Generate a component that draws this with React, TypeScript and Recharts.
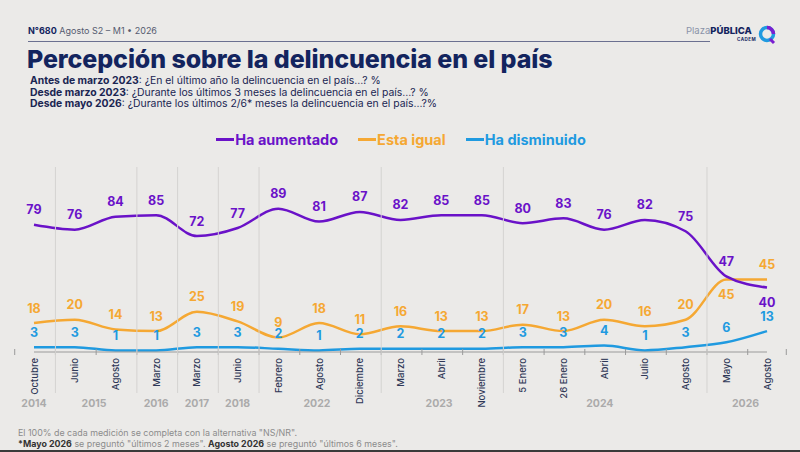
// @ts-nocheck
import { LineChart, Line, XAxis, YAxis, Legend, LabelList } from 'recharts';

const categories = [
  'Octubre', 'Junio', 'Agosto', 'Marzo', 'Marzo', 'Junio', 'Febrero', 'Agosto', 'Diciembre',
  'Marzo', 'Abril', 'Noviembre', '5 Enero', '26 Enero', 'Abril', 'Julio', 'Agosto', 'Mayo', 'Agosto',
];
const years = [
  '2014', '2015', '2015', '2016', '2017', '2018', '2022', '2022', '2022',
  '2023', '2023', '2023', '2024', '2024', '2024', '2024', '2024', '2026', '2026',
];
const aumentado = [79, 76, 84, 85, 72, 77, 89, 81, 87, 82, 85, 85, 80, 83, 76, 82, 75, 47, 40];
const igual = [18, 20, 14, 13, 25, 19, 9, 18, 11, 16, 13, 13, 17, 13, 20, 16, 20, 45, 45];
const disminuido = [3, 3, 1, 1, 3, 3, 2, 1, 2, 2, 2, 2, 3, 3, 4, 1, 3, 6, 13];
const seriesOrder = ['Ha aumentado', 'Esta igual', 'Ha disminuido'];

const data = categories.map((c, i) => ({
  id: i,
  aumentado: aumentado[i],
  igual: igual[i],
  disminuido: disminuido[i],
}));

const W = 800;
const H = 452;
const M = { top: 174, right: 33, bottom: 70, left: 34 };
const AXIS_H = 30;
const AXIS_Y = H - M.bottom - AXIS_H;
const N = categories.length;
const HALF = (W - M.left - M.right) / N / 2;

const PURPLE = '#6a12c8';
const ORANGE = '#f5a833';
const BLUE = '#1f9ae0';
const NAVY = '#13245e';
const FONT = 'Inter, "Noto Sans", sans-serif';

const AxisTick = ({ x, payload, index }) => {
  const i = typeof index === 'number' ? index : payload.index;
  const half = payload && payload.offset > 0 ? payload.offset : HALF;
  const groupStart = i === 0 || years[i] !== years[i - 1];
  let end = i;
  while (end + 1 < N && years[end + 1] === years[i]) end++;
  return (
    <g>
      <line x1={x - half} x2={x - half} y1={AXIS_Y - 3} y2={AXIS_Y + 3} stroke="#9a9a9a" />
      {i === N - 1 && (
        <line x1={x + half} x2={x + half} y1={AXIS_Y - 3} y2={AXIS_Y + 3} stroke="#9a9a9a" />
      )}
      {groupStart && i > 0 && (
        <line x1={x - half} x2={x - half} y1={167} y2={393} stroke="#d4d3d1" />
      )}
      <text
        transform={`translate(${x + 3.5},${AXIS_Y + 6}) rotate(-90)`}
        textAnchor="end"
        fontSize={9.5}
        fontWeight={500}
        fill="#2f3857"
        fontFamily={FONT}
      >
        {categories[i]}
      </text>
      {groupStart && (
        <text
          x={x + (end - i) * half}
          y={407}
          textAnchor="middle"
          fontSize={10.5}
          fontWeight={700}
          fill="#ababab"
          fontFamily={FONT}
        >
          {years[i]}
        </text>
      )}
    </g>
  );
};

const makeLabel = (color, below) => (props) => {
  const { x, y, value, index } = props;
  const dy = below.includes(index) ? 19.5 : -10.5;
  return (
    <text x={x} y={y + dy} textAnchor="middle" fill={color} fontSize={12.5} fontWeight={700} fontFamily={FONT}>
      {value}
    </text>
  );
};

const LegendContent = ({ payload }) => {
  const items = [...(payload || [])].sort(
    (a, b) => seriesOrder.indexOf(a.value) - seriesOrder.indexOf(b.value)
  );
  return (
    <div style={{ display: 'flex', justifyContent: 'center', gap: 20, fontFamily: FONT, marginLeft: 2 }}>
      {items.map((p) => (
        <div key={p.value} style={{ display: 'flex', alignItems: 'center', color: p.color, fontWeight: 700, fontSize: 14.5 }}>
          <span style={{ display: 'inline-block', width: 18, height: 3, background: p.color, marginRight: 1 }} />
          {p.value}
        </div>
      ))}
    </div>
  );
};

export default function App() {
  return (
    <div
      style={{
        position: 'absolute',
        left: 0,
        top: 0,
        width: W,
        height: H,
        background: '#ebeae8',
        fontFamily: FONT,
        overflow: 'hidden',
      }}
    >
      <div style={{ position: 'absolute', left: 28, top: 25, fontSize: 9, color: NAVY }}>
        <b>N°680</b> <span style={{ color: '#555b70' }}>Agosto S2 – M1 • 2026</span>
      </div>
      <div style={{ position: 'absolute', left: 28, top: 41, width: 682, height: 1, background: '#6b7090' }} />
      <div style={{ position: 'absolute', left: 686, top: 26, fontSize: 9.5, color: '#8a93a8', lineHeight: 1 }}>
        Plaza<b style={{ color: NAVY, fontWeight: 800 }}>PÚBLICA</b>
      </div>
      <div style={{ position: 'absolute', left: 737, top: 37, fontSize: 4.5, color: NAVY, fontWeight: 700, letterSpacing: 0.5 }}>
        CADEM
      </div>
      <svg style={{ position: 'absolute', left: 758, top: 25 }} width={20} height={20}>
        <circle cx={9} cy={9} r={6.5} fill="none" stroke={BLUE} strokeWidth={3.5} />
        <path d="M 9 2.5 A 6.5 6.5 0 0 1 15.5 9" fill="none" stroke="#7a1fd0" strokeWidth={3.5} />
        <path d="M 12 14 L 16 18" stroke="#7a1fd0" strokeWidth={3} />
      </svg>

      <div style={{ position: 'absolute', left: 27, top: 45, fontSize: 25, fontWeight: 800, color: NAVY, letterSpacing: -0.1, lineHeight: 1.15 }}>
        Percepción sobre la delincuencia en el país
      </div>
      <div style={{ position: 'absolute', left: 30, top: 75, fontSize: 10.4, color: '#1a2552', lineHeight: '11.6px' }}>
        <div><b>Antes de marzo 2023</b>: ¿En el último año la delincuencia en el país…? %</div>
        <div><b>Desde marzo 2023</b>: ¿Durante los últimos 3 meses la delincuencia en el país…? %</div>
        <div><b>Desde mayo 2026</b>: ¿Durante los últimos 2/6* meses la delincuencia en el país…?%</div>
      </div>

      <div style={{ position: 'absolute', left: 0, top: 0 }}>
        <LineChart width={W} height={H} data={data} margin={M}>
          <XAxis
            dataKey="id"
            type="category"
            interval={0}
            tick={<AxisTick />}
            tickLine={false}
            axisLine={{ stroke: '#9a9a9a' }}
            height={AXIS_H}
          />
          <YAxis hide domain={[0, 100]} />
          <Legend
            verticalAlign="top"
            content={<LegendContent />}
            wrapperStyle={{ top: 131, left: 0, width: W }}
          />
          <Line
            dataKey="disminuido"
            name="Ha disminuido"
            type="monotone"
            stroke={BLUE}
            strokeWidth={2.5}
            dot={false}
            isAnimationActive={false}
          >
            <LabelList dataKey="disminuido" content={makeLabel(BLUE, [])} />
          </Line>
          <Line
            dataKey="igual"
            name="Esta igual"
            type="monotone"
            stroke={ORANGE}
            strokeWidth={2.5}
            dot={false}
            isAnimationActive={false}
          >
            <LabelList dataKey="igual" content={makeLabel(ORANGE, [17])} />
          </Line>
          <Line
            dataKey="aumentado"
            name="Ha aumentado"
            type="monotone"
            stroke={PURPLE}
            strokeWidth={2.5}
            dot={false}
            isAnimationActive={false}
          >
            <LabelList dataKey="aumentado" content={makeLabel(PURPLE, [18])} />
          </Line>
        </LineChart>
      </div>

      <div style={{ position: 'absolute', left: 18, top: 427, fontSize: 8.9, color: '#8c8c8c', lineHeight: '11px' }}>
        <div>El 100% de cada medición se completa con la alternativa "NS/NR".</div>
        <div>
          <b style={{ color: '#333' }}>*Mayo 2026</b> se preguntó "últimos 2 meses". <b style={{ color: '#333' }}>Agosto 2026</b> se preguntó "últimos 6 meses".
        </div>
      </div>
      <div style={{ position: 'absolute', left: 0, top: 450, width: W, height: 2, background: '#3a3a3a' }} />
    </div>
  );
}
